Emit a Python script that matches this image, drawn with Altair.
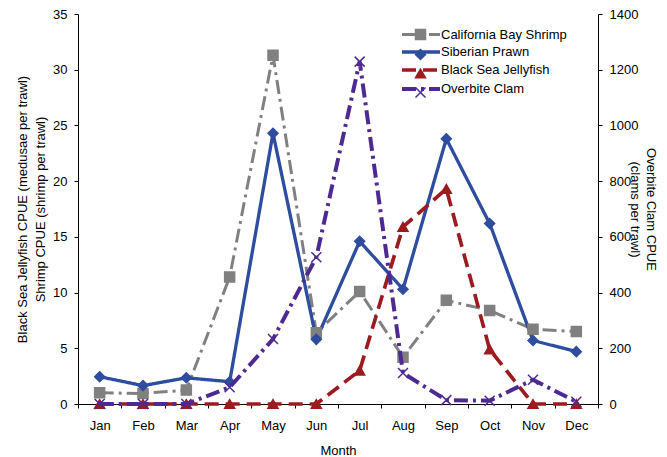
import altair as alt
import pandas as pd

months = ["Jan", "Feb", "Mar", "Apr", "May", "Jun", "Jul", "Aug", "Sep", "Oct", "Nov", "Dec"]
series_names = ["California Bay Shrimp", "Siberian Prawn", "Black Sea Jellyfish", "Overbite Clam"]
shrimp = [1.0, 0.95, 1.25, 11.4, 31.3, 6.4, 10.1, 4.2, 9.3, 8.4, 6.7, 6.5]
prawn = [2.45, 1.65, 2.35, 2.0, 24.3, 5.8, 14.6, 10.3, 23.8, 16.2, 5.7, 4.7]
jelly = [0, 0, 0, 0, 0, 0, 3.0, 15.9, 19.3, 4.9, 0, 0]
clam = [0, 0, 0, 60, 233, 527, 1229, 111, 14, 12, 87, 8]

colors = ["#808080", "#2f4d9e", "#9b1b1f", "#4d2a91"]
dashes = [[14, 5, 3, 5], [1, 0], [14, 7], [14, 5, 3, 5]]
widths = [3, 4, 3, 3]
shapes = ["square", "diamond", "triangle-up", "M-1,-1L1,1M-1,1L1,-1"]

# point-layer names carry a trailing space so their legend stays separate from the line legend
pt_names = [n + " " for n in series_names]

rows = []
for name, vals in zip(series_names, [shrimp, prawn, jelly, clam]):
    for m, v in zip(months, vals):
        rows.append({"month": m, "species": name, "species_pt": name + " ", "value": v})
df = pd.DataFrame(rows)

FONT = "Liberation Sans"
LX, LY = 336, 14

x_enc = alt.X(
    "month:N", sort=months, bandPosition=0.5,
    scale=alt.Scale(type="band", paddingInner=0, paddingOuter=0),
    axis=alt.Axis(title="Month", tickBand="extent", labelAngle=0, labelPadding=11, titlePadding=12),
)

common_leg = dict(orient="none", legendX=LX, legendY=LY, title=None, padding=0,
                  symbolSize=100, labelFontSize=13, labelFont=FONT, rowPadding=3)
line_color = alt.Color("species:N", scale=alt.Scale(domain=series_names, range=colors),
                       legend=alt.Legend(symbolType="M-3.8,0L3.8,0", symbolStrokeWidth=3,
                                         labelOffset=13, **common_leg))
line_dash = alt.StrokeDash("species:N", scale=alt.Scale(domain=series_names, range=dashes),
                           legend=alt.Legend(**common_leg))
line_width = alt.StrokeWidth("species:N", scale=alt.Scale(domain=series_names, range=widths),
                             legend=None)

pt_leg = alt.Legend(symbolStrokeWidth=1.5, labelExpr="''", labelOffset=13, **common_leg)
pt_fill = alt.Fill("species_pt:N", scale=alt.Scale(domain=pt_names, range=colors), legend=pt_leg)
pt_stroke = alt.Stroke("species_pt:N", scale=alt.Scale(domain=pt_names, range=colors), legend=pt_leg)
pt_shape = alt.Shape("species_pt:N", scale=alt.Scale(domain=pt_names, range=shapes), legend=pt_leg)


def layer_for(names, scale, axis):
    base = alt.Chart(df).transform_filter(alt.FieldOneOfPredicate(field="species", oneOf=names))
    y = alt.Y("value:Q", scale=scale, axis=axis)
    line = base.mark_line().encode(x=x_enc, y=y, color=line_color, strokeDash=line_dash,
                                   strokeWidth=line_width)
    pts = base.mark_point(size=100, strokeWidth=1.5, opacity=1).encode(
        x=x_enc, y=y, fill=pt_fill, stroke=pt_stroke, shape=pt_shape)
    return alt.layer(line, pts)


left = layer_for(series_names[:3], alt.Scale(domain=[0, 35], nice=False),
                 alt.Axis(title=["Black Sea Jellyfish CPUE (medusae per trawl)", "Shrimp CPUE (shrimp per trawl)"],
                          values=list(range(0, 36, 5)), orient="left", titlePadding=5,
                          titleLineHeight=18, labelPadding=7))
right = layer_for(series_names[3:], alt.Scale(domain=[0, 1400], nice=False),
                  alt.Axis(title=["Overbite Clam CPUE", "(clams per trawl)"], format="d",
                           values=list(range(0, 1401, 200)), orient="right", titlePadding=-10,
                           titleLineHeight=16, labelPadding=7))

chart = alt.layer(left, right).resolve_scale(y="independent").properties(
    width=520, height=390, padding={"left": 8, "top": 0, "right": 0, "bottom": 0}
).configure_view(stroke=None).configure_axis(
    domainColor="black", tickColor="black", labelColor="black", titleColor="black",
    labelFont=FONT, titleFont=FONT, labelFontSize=13, titleFontSize=13,
    titleFontWeight="normal", grid=False, tickSize=4, domainWidth=1, tickWidth=1,
).configure_legend(labelColor="black")

chart.save("out.html", embed_options={"renderer": "svg", "actions": False})
